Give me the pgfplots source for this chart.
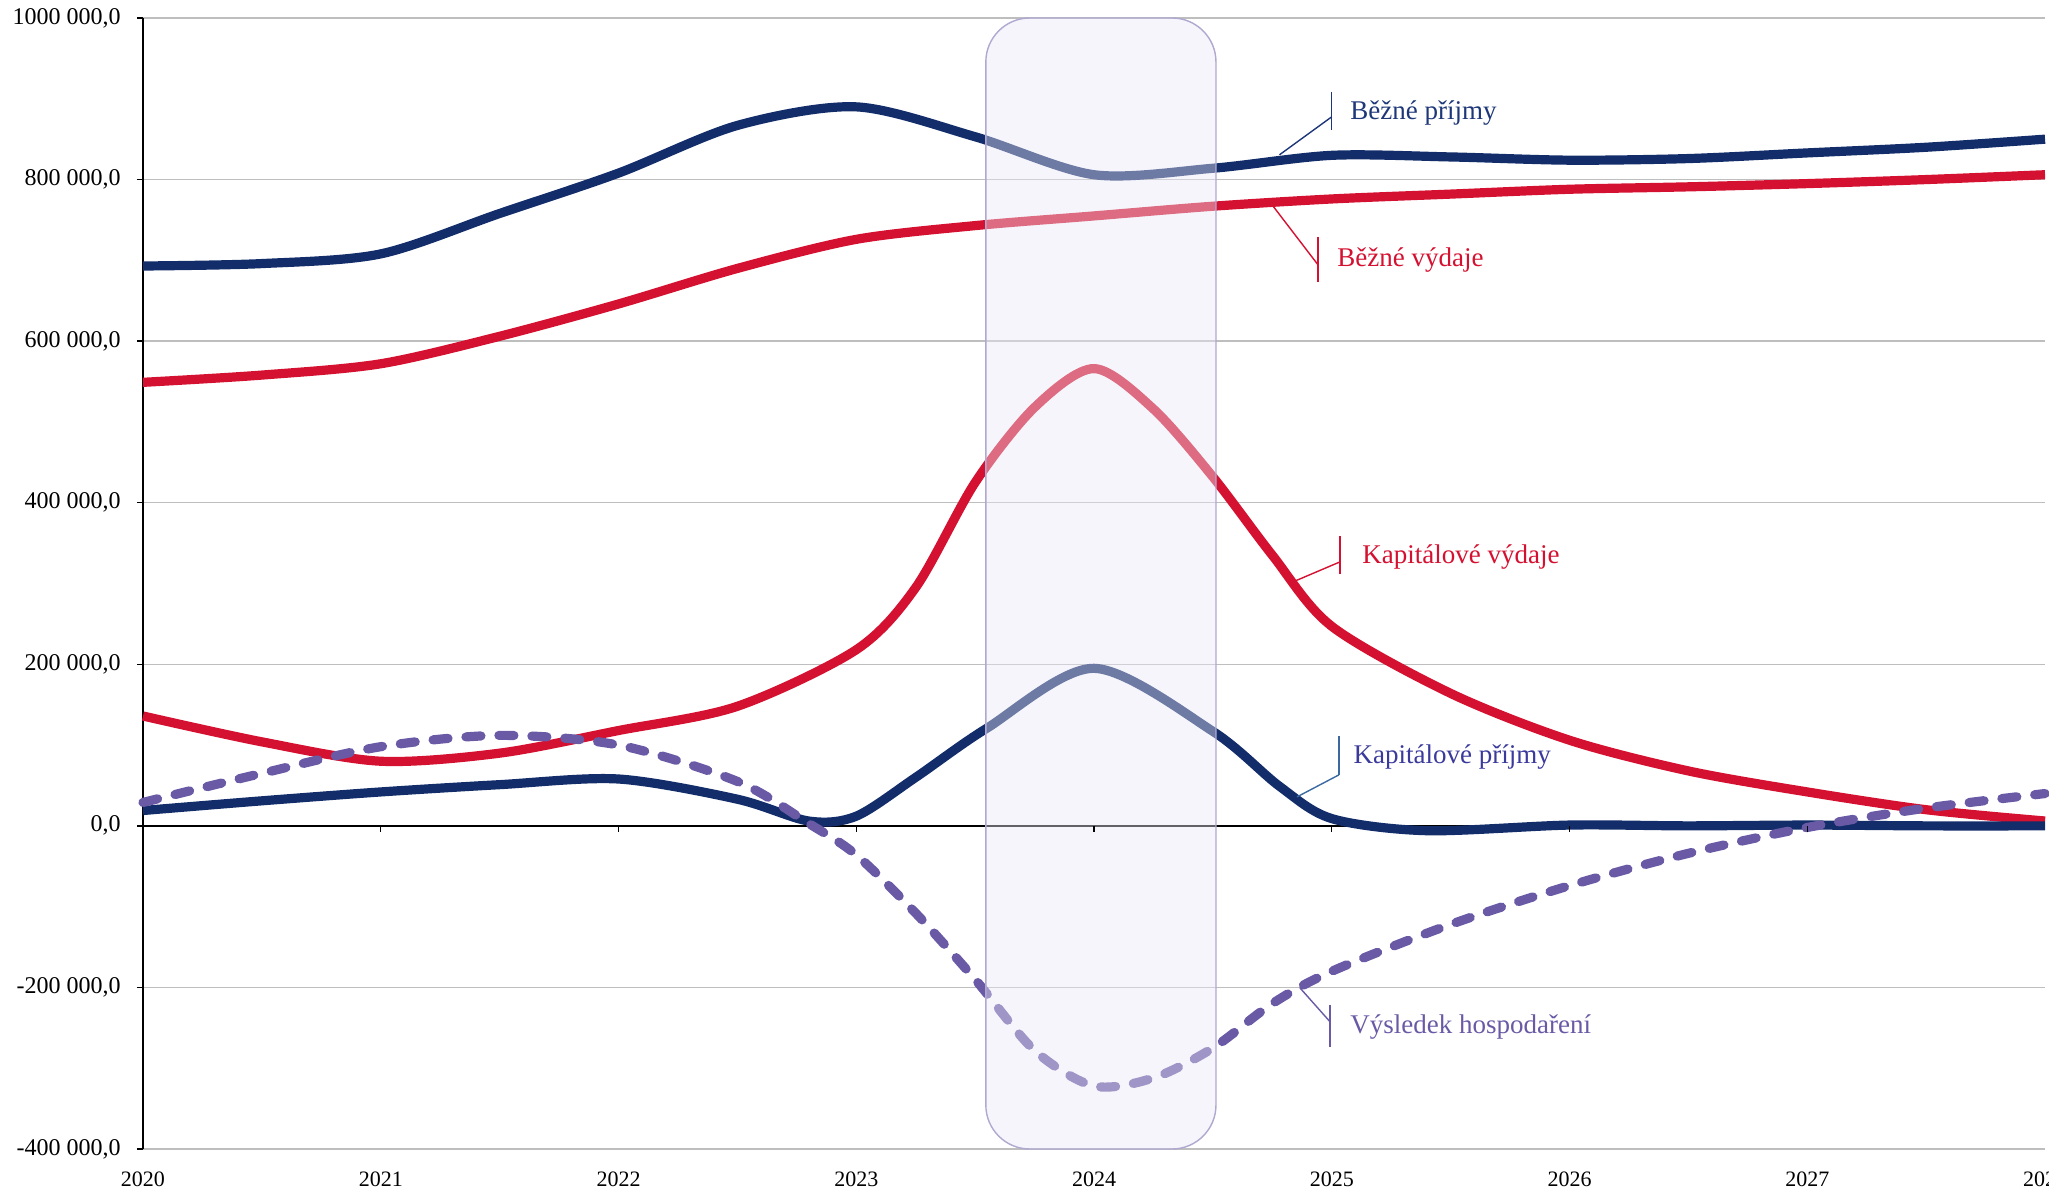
\documentclass[border=0pt]{standalone}
\usepackage{fontspec}
\setmainfont{Liberation Serif}
\usepackage{pgfplots}
\pgfplotsset{compat=1.18}
\definecolor{navy}{RGB}{19,45,106}
\definecolor{cred}{RGB}{212,17,48}
\definecolor{cpurp}{RGB}{106,90,166}
\definecolor{kplab}{RGB}{58,58,156}
\definecolor{kpline}{RGB}{58,106,160}
\definecolor{bplab}{RGB}{30,55,120}
\definecolor{gridgray}{RGB}{190,190,190}
\definecolor{boxfill}{RGB}{234,232,245}
\definecolor{boxborder}{RGB}{176,168,208}
\begin{document}
\begin{tikzpicture}
\begin{axis}[
  name=ax, scale only axis, width=951pt, height=565.5pt,
  xmin=2020, xmax=2028, ymin=-400000, ymax=1000000,
  clip=false,
  axis x line=bottom, axis y line=left,
  axis line style={-},
  x axis line style={draw=gridgray, line width=0.7pt},
  y axis line style={draw=black, line width=0.7pt},
  xtick={2020,2021,2022,2023,2024,2025,2026,2027,2028},
  xticklabels={2020,2021,2022,2023,2024,2025,2026,2027,2028},
  xtick style={draw=none},
  xticklabel style={font=\fontsize{11}{13}\selectfont, yshift=-5pt},
  ytick={-400000,-200000,0,200000,400000,600000,800000,1000000},
  yticklabels={{-400 000,0},{-200 000,0},{0,0},{200 000,0},{400 000,0},{600 000,0},{800 000,0},{1000 000,0}},
  yticklabel style={font=\fontsize{12}{14}\selectfont, inner sep=1pt, xshift=-7pt},
  tick align=outside, major tick length=3pt,
  ytick style={black, line width=0.7pt},
  ymajorgrids=true,
  major grid style={gridgray, line width=0.7pt},
  extra y ticks={0}, extra y tick labels={},
  extra y tick style={major grid style={black, line width=0.8pt}},
  every axis plot/.append style={smooth, tension=0.5, line width=4.6pt, line join=round},
]
% Běžné příjmy
\addplot[navy] coordinates {
(2020,693000) (2020.5,696000) (2021,708000) (2021.5,758000) (2022,808000)
(2022.5,867000) (2023,890000) (2023.5,853000) (2024,806000) (2024.5,814000)
(2025,830000) (2025.5,828000) (2026,824000) (2026.5,826000) (2027,833000)
(2027.5,840000) (2028,850000)};
% Běžné výdaje
\addplot[cred] coordinates {
(2020,549000) (2020.5,558000) (2021,572000) (2021.5,606000) (2022,646000)
(2022.5,690000) (2023,726000) (2023.5,743000) (2024,755000) (2024.5,767000)
(2025,776000) (2025.5,782000) (2026,788000) (2026.5,791000) (2027,795000)
(2027.5,800000) (2028,806000)};
% Kapitálové výdaje
\addplot[cred] coordinates {
(2020,136000) (2020.5,104000) (2021,80000) (2021.5,90000) (2022,118000)
(2022.5,148000) (2023,218000) (2023.25,295000) (2023.5,425000) (2023.75,518000)
(2024,566000) (2024.25,516000) (2024.5,432000) (2024.75,335000) (2025,247000)
(2025.5,164000) (2026,106000) (2026.5,68000) (2027,42000) (2027.5,20000) (2028,6000)};
% Kapitálové příjmy
\addplot[navy] coordinates {
(2020,19000) (2020.5,31000) (2021,42000) (2021.5,51000) (2022,58000)
(2022.5,33000) (2022.8,6000) (2023,12000) (2023.25,60000) (2023.55,121000)
(2024,195000) (2024.5,117000) (2024.78,49000) (2025,9000) (2025.4,-6000)
(2026,1000) (2026.5,0) (2027,1000) (2027.5,0) (2028,0)};
% Výsledek hospodaření
\addplot[cpurp, line cap=round, dash pattern=on 7.5pt off 9pt] coordinates {
(2020,29000) (2020.5,65000) (2021,98000) (2021.5,112000) (2022,100000)
(2022.5,55000) (2022.8,3000) (2023,-36000) (2023.25,-108000) (2023.5,-190000)
(2023.75,-278000) (2024,-322000) (2024.25,-312000) (2024.5,-275000)
(2024.75,-220000) (2025,-180000) (2025.5,-122000) (2026,-74000)
(2026.5,-34000) (2027,-2000) (2027.5,22000) (2028,40000)};
% highlight box
\draw[draw=boxborder, fill=boxfill, fill opacity=0.42, rounded corners=22pt, line width=0.7pt]
  (axis cs:2023.545,1000000) rectangle (axis cs:2024.513,-400000);
% zero-line ticks
\pgfplotsinvokeforeach{2021,2022,2023,2024,2025,2026,2027}{
  \draw[black, line width=0.6pt] (axis cs:#1,0) -- ([yshift=-3pt]axis cs:#1,0);
}
% labels
\draw[bplab, line width=0.7pt] (axis cs:2025.0,908600) -- (axis cs:2025.0,861600);
\draw[bplab, line width=0.7pt] (axis cs:2025.0,877700) -- (axis cs:2024.78,830600);
\node[anchor=west, inner sep=0pt, text=bplab, font=\fontsize{13.5}{16}\selectfont] at (axis cs:2025.077,882600) {Běžné příjmy};
\draw[cred, line width=0.7pt] (axis cs:2024.942,729100) -- (axis cs:2024.942,673400);
\draw[cred, line width=0.7pt] (axis cs:2024.942,694500) -- (axis cs:2024.749,768700);
\node[anchor=west, inner sep=0pt, text=cred, font=\fontsize{13.5}{16}\selectfont] at (axis cs:2025.022,700700) {Běžné výdaje};
\draw[cred, line width=0.7pt] (axis cs:2025.035,359000) -- (axis cs:2025.035,312000);
\draw[cred, line width=0.7pt] (axis cs:2025.035,326800) -- (axis cs:2024.837,302000);
\node[anchor=west, inner sep=0pt, text=cred, font=\fontsize{13.5}{16}\selectfont] at (axis cs:2025.127,333000) {Kapitálové výdaje};
\draw[kpline, line width=0.7pt] (axis cs:2025.03,111400) -- (axis cs:2025.03,63100);
\draw[kpline, line width=0.7pt] (axis cs:2025.03,63100) -- (axis cs:2024.854,35900);
\node[anchor=west, inner sep=0pt, text=kplab, font=\fontsize{13.5}{16}\selectfont] at (axis cs:2025.09,85400) {Kapitálové příjmy};
\draw[cpurp, line width=0.7pt] (axis cs:2024.993,-221600) -- (axis cs:2024.993,-273600);
\draw[cpurp, line width=0.7pt] (axis cs:2024.993,-242600) -- (axis cs:2024.866,-200500);
\node[anchor=west, inner sep=0pt, text=cpurp, font=\fontsize{13.5}{16}\selectfont] at (axis cs:2025.077,-248800) {Výsledek hospodaření};
\end{axis}
\pgfresetboundingbox
\path[use as bounding box] ([xshift=-71.5pt,yshift=-19.5pt]ax.south west) rectangle ([xshift=2pt,yshift=9pt]ax.north east);
\end{tikzpicture}
\end{document}
